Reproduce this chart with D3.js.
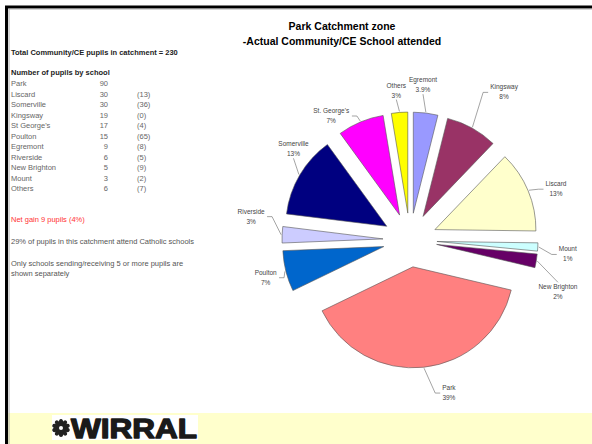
<!DOCTYPE html>
<html>
<head>
  <meta charset="utf-8">
  <title>Park Catchment zone</title>
  <script src="https://d3js.org/d3.v7.min.js"></script>
  <style>
    html, body { margin: 0; background: #fff; }
    text { font-family: "Liberation Sans", Arial, sans-serif; }
  </style>
</head>
<body>
<script>
// left hand table (order as on the slide)
var schools = ['Park', 'Liscard', 'Somerville', 'Kingsway', "St George's", 'Poulton',
               'Egremont', 'Riverside', 'New Brighton', 'Mount', 'Others'];
var pupils = [90, 30, 30, 19, 17, 15, 9, 6, 5, 3, 6];
var previous = ['', '(13)', '(36)', '(0)', '(4)', '(65)', '(8)', '(5)', '(9)', '(2)', '(7)'];

// pie (clockwise from 12 o'clock)
var pieSchools = ['Egremont', 'Kingsway', 'Liscard', 'Mount', 'New Brighton', 'Park',
                  'Poulton', 'Riverside', 'Somerville', "St George's", 'Others'];
var pieNames = ['Egremont', 'Kingsway', 'Liscard', 'Mount', 'New Brighton', 'Park',
                'Poulton', 'Riverside', 'Somerville', "St. George's", 'Others'];
var piePct = ['3.9%', '8%', '13%', '1%', '2%', '39%', '7%', '3%', '13%', '7%', '3%'];
var pieColors = ['#9999ff', '#993366', '#ffffcc', '#ccffff', '#660066', '#ff8080',
                 '#0066cc', '#ccccff', '#000080', '#ff00ff', '#ffff00'];

var notes = ['29% of pupils in this catchment attend Catholic schools'];

var width = 592, height = 444;

var svg = d3.select('body').append('svg')
  .attr('width', width)
  .attr('height', height);

// slide frame + footer band
svg.append('rect')
  .attr('x', 8).attr('y', 413).attr('width', width - 8).attr('height', height - 413)
  .attr('fill', '#ffffcc');
svg.append('path')
  .attr('d', 'M6.5,' + height + 'V7H' + width)
  .attr('fill', 'none').attr('stroke', '#000').attr('stroke-width', 3);
svg.append('path')
  .attr('d', 'M9,' + height + 'V9H' + width)
  .attr('fill', 'none').attr('stroke', '#999').attr('stroke-width', 0.8);

// WIRRAL logo
var logo = svg.append('g');
logo.append('rect').attr('x', 52).attr('y', 415).attr('width', 146).attr('height', 25).attr('fill', '#fff');
var flower = logo.append('g').attr('transform', 'translate(61,428)');
d3.range(10).forEach(function (i) {
  flower.append('ellipse')
    .attr('cx', 0).attr('cy', -5.5).attr('rx', 2.2).attr('ry', 3.6)
    .attr('fill', '#222')
    .attr('transform', 'rotate(' + (i * 36) + ')');
});
flower.append('circle').attr('r', 4.5).attr('fill', '#222');
flower.append('circle').attr('r', 2).attr('fill', '#fff');
logo.append('text')
  .attr('x', 71).attr('y', 438)
  .attr('font-size', 27).attr('font-weight', 900)
  .attr('textLength', 126).attr('lengthAdjust', 'spacingAndGlyphs')
  .attr('fill', '#1a1a1a')
  .attr('stroke', '#1a1a1a').attr('stroke-width', 1.3).attr('stroke-linejoin', 'round')
  .text('WIRRAL');

// left text block
var left = svg.append('g').attr('font-size', 7.5);
left.append('text').attr('x', 11).attr('y', 55).attr('font-weight', 'bold').attr('fill', '#222')
  .text('Total Community/CE pupils in catchment = 230');
left.append('text').attr('x', 11).attr('y', 75).attr('font-weight', 'bold').attr('fill', '#222')
  .text('Number of pupils by school');

var rowY = d3.scalePoint().domain(schools).range([86, 191]);
var rows = left.selectAll('g.row').data(schools).enter().append('g')
  .attr('class', 'row').attr('fill', '#666');
rows.append('text').attr('x', 11).attr('y', function (d) { return rowY(d); }).text(function (d) { return d; });
rows.append('text').attr('x', 108).attr('y', function (d) { return rowY(d); })
  .attr('text-anchor', 'end').text(function (d, i) { return pupils[i]; });
rows.append('text').attr('x', 137).attr('y', function (d) { return rowY(d); })
  .text(function (d, i) { return previous[i]; });

left.append('text').attr('x', 11).attr('y', 222).attr('fill', '#ff3333').text('Net gain 9 pupils (4%)');
left.append('text').attr('x', 11).attr('y', 244).attr('fill', '#555').text(notes[0]);
left.append('text').attr('x', 11).attr('y', 266).attr('fill', '#555')
  .text('Only schools sending/receiving 5 or more pupils are');
left.append('text').attr('x', 11).attr('y', 276).attr('fill', '#555').text('shown separately');

// title
var title = svg.append('g').attr('font-size', 10.5).attr('font-weight', 'bold').attr('text-anchor', 'middle');
title.append('text').attr('x', 342).attr('y', 30).text('Park Catchment zone');
title.append('text').attr('x', 342).attr('y', 45).text('-Actual Community/CE School attended');

// exploded pie
var cx = 410, cy = 240, r = 101, explode = 27, labelR = 155;
var pie = d3.pie().sort(null).value(function (d) { return d; });
var arcs = pie(pieSchools.map(function (s) { return pupils[schools.indexOf(s)]; }));
var arc = d3.arc().innerRadius(0).outerRadius(r);

function mid(d) { return (d.startAngle + d.endAngle) / 2; }

var chart = svg.append('g').attr('transform', 'translate(' + cx + ',' + cy + ')');

chart.selectAll('path.slice').data(arcs).enter().append('path')
  .attr('class', 'slice')
  .attr('transform', function (d) {
    var a = mid(d);
    return 'translate(' + (explode * Math.sin(a)) + ',' + (-explode * Math.cos(a)) + ')';
  })
  .attr('d', arc)
  .attr('fill', function (d, i) { return pieColors[i]; })
  .attr('stroke', '#555')
  .attr('stroke-width', 0.6);

// hand-placed label offsets (labels were dragged in the original)
var labelShift = {
  'Egremont': [-6, -2], 'Others': [-1, 4], 'Kingsway': [19, -13], "St George's": [-19, 18],
  'Somerville': [17, -13], 'Riverside': [-4, -18], 'Poulton': [6, -1], 'Park': [22, -2],
  'New Brighton': [-5, 26], 'Mount': [3, 5], 'Liscard': [3, 8]
};

var labels = chart.append('g').attr('font-size', 6.5).attr('fill', '#444');
arcs.forEach(function (d, i) {
  var a = mid(d);
  var sh = labelShift[pieSchools[i]];
  var lx = labelR * Math.sin(a) + sh[0];
  var ly = -labelR * Math.cos(a) + sh[1];
  var ex = (explode + r + 1) * Math.sin(a);
  var ey = -(explode + r + 1) * Math.cos(a);

  var t = labels.append('text').attr('text-anchor', 'middle');
  t.append('tspan').attr('x', lx).attr('y', ly - 2).text(pieNames[i]);
  t.append('tspan').attr('x', lx).attr('y', ly + 8).text(piePct[i]);
  var bb = t.node().getBBox();

  // leader line from slice edge to the label
  var pts;
  var dx = lx - ex, dy = ly - ey;
  if (Math.abs(dx) < bb.width / 2 + 2) {
    var yy = dy < 0 ? bb.y + bb.height + 1 : bb.y - 1;
    pts = [[ex, ey], [lx, yy]];
  } else {
    var side = dx > 0 ? bb.x - 2 : bb.x + bb.width + 2;
    var ay = ly + 1;
    pts = [[ex, ey], [side + (dx > 0 ? -5 : 5), ay], [side, ay]];
  }
  labels.append('path')
    .attr('d', d3.line()(pts))
    .attr('fill', 'none')
    .attr('stroke', '#666')
    .attr('stroke-width', 0.6);
});
</script>
</body>
</html>
